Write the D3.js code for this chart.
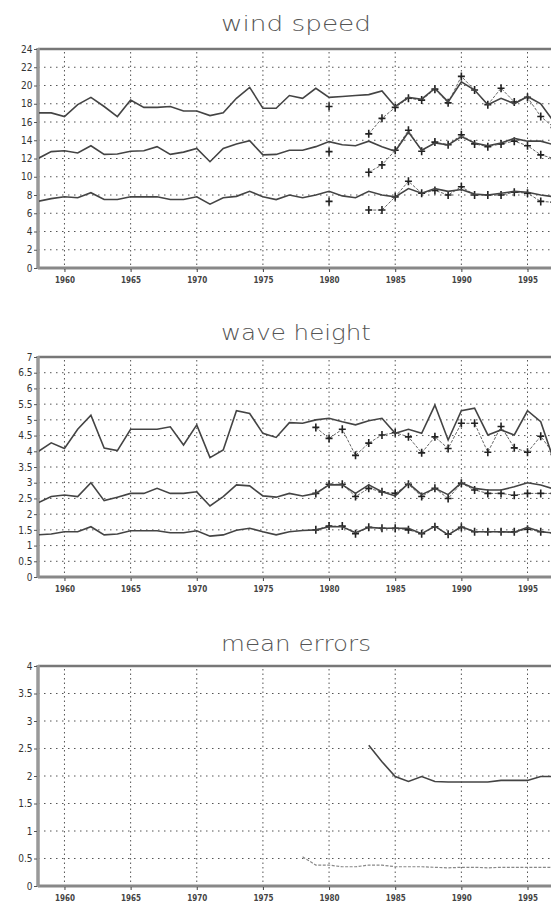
<!DOCTYPE html>
<html><head><meta charset="utf-8">
<script src="https://cdn.jsdelivr.net/npm/d3@7"></script>
<style>
html,body{margin:0;padding:0;background:#fff;overflow:hidden}
svg{display:block}
</style></head>
<body>
<svg id="chart" width="551" height="905"></svg>
<script>
// ---------- DATA ----------
const years = [1958,1959,1960,1961,1962,1963,1964,1965,1966,1967,1968,1969,1970,1971,1972,1973,1974,1975,1976,1977,
               1978,1979,1980,1981,1982,1983,1984,1985,1986,1987,1988,1989,1990,1991,1992,1993,1994,1995,1996,1997];
const yearTicks = [1960,1965,1970,1975,1980,1985,1990,1995];

const windUpper = [17.0,17.0,16.6,17.9,18.7,17.7,16.6,18.4,17.6,17.6,17.7,17.2,17.2,16.7,17.0,18.6,19.8,17.5,17.5,18.9,
                   18.6,19.7,18.7,18.8,18.9,19.0,19.4,17.7,18.7,18.5,19.7,18.2,20.4,19.5,17.9,18.6,18.0,18.8,18.0,16.0];
const windMid   = [12.0,12.75,12.85,12.6,13.4,12.45,12.5,12.8,12.85,13.3,12.45,12.7,13.1,11.65,13.1,13.6,13.95,12.4,12.45,12.9,
                   12.9,13.3,13.85,13.5,13.4,13.9,13.3,12.8,14.9,12.9,13.7,13.5,14.4,13.7,13.4,13.7,14.2,13.9,13.9,13.5];
const windLow   = [7.3,7.6,7.8,7.7,8.25,7.5,7.5,7.8,7.8,7.8,7.5,7.5,7.8,7.0,7.7,7.85,8.4,7.8,7.5,8.0,
                   7.7,8.0,8.4,7.9,7.7,8.4,8.0,7.8,8.7,8.2,8.7,8.4,8.6,8.1,8.0,8.2,8.4,8.3,8.0,7.8];

const windObsYears = [1980,1981,1982,1983,1984,1985,1986,1987,1988,1989,1990,1991,1992,1993,1994,1995,1996,1997];
const windUpperObs = [17.7,null,null,14.7,16.4,17.6,18.6,18.4,19.6,18.1,21.0,19.5,17.9,19.7,18.2,18.7,16.6,15.4];
const windMidObs   = [12.75,null,null,10.5,11.3,12.9,15.1,12.8,13.8,13.5,14.6,13.6,13.3,13.6,13.9,13.4,12.4,12.0];
const windLowObs   = [7.3,null,null,6.35,6.35,7.8,9.5,8.2,8.5,8.0,8.9,8.0,8.0,8.0,8.3,8.2,7.3,7.2];

const waveUpper = [3.99,4.27,4.09,4.7,5.15,4.1,4.02,4.7,4.7,4.7,4.78,4.2,4.84,3.8,4.04,5.29,5.2,4.57,4.44,4.91,
                   4.89,5.0,5.05,4.94,4.84,4.97,5.05,4.57,4.7,4.57,5.47,4.36,5.29,5.37,4.52,4.68,4.52,5.29,4.94,3.7];
const waveMid   = [2.36,2.56,2.61,2.56,3.0,2.43,2.54,2.66,2.66,2.82,2.66,2.66,2.71,2.26,2.56,2.93,2.9,2.58,2.54,2.66,
                   2.58,2.66,2.93,2.93,2.66,2.93,2.71,2.58,2.98,2.62,2.82,2.62,3.0,2.82,2.77,2.77,2.87,3.0,2.93,2.8];
const waveLow   = [1.34,1.37,1.44,1.44,1.6,1.34,1.37,1.47,1.47,1.47,1.41,1.41,1.47,1.3,1.34,1.49,1.55,1.44,1.34,1.44,
                   1.48,1.5,1.6,1.6,1.41,1.58,1.55,1.55,1.55,1.38,1.62,1.34,1.6,1.44,1.44,1.44,1.42,1.58,1.44,1.4];

const waveObsYears = [1979,1980,1981,1982,1983,1984,1985,1986,1987,1988,1989,1990,1991,1992,1993,1994,1995,1996,1997];
const waveUpperObs = [4.76,4.41,4.7,3.87,4.26,4.52,4.59,4.46,3.95,4.46,4.09,4.89,4.89,3.97,4.79,4.11,3.97,4.48,3.9];
const waveMidObs   = [2.66,2.95,2.95,2.56,2.82,2.71,2.66,2.95,2.56,2.82,2.5,2.98,2.77,2.66,2.66,2.6,2.66,2.66,2.66];
const waveLowObs   = [1.5,1.62,1.62,1.38,1.58,1.55,1.55,1.5,1.38,1.6,1.36,1.58,1.44,1.44,1.44,1.44,1.52,1.44,1.4];

const errUpperYears = [1983,1984,1985,1986,1987,1988,1989,1990,1991,1992,1993,1994,1995,1996,1997];
const errUpper      = [2.56,2.26,1.99,1.9,1.99,1.9,1.89,1.89,1.89,1.89,1.92,1.92,1.92,1.99,1.99];
const errLowerYears = [1978,1979,1980,1981,1982,1983,1984,1985,1986,1987,1988,1989,1990,1991,1992,1993,1994,1995,1996,1997];
const errLower      = [0.53,0.38,0.38,0.35,0.35,0.38,0.38,0.35,0.35,0.35,0.34,0.33,0.34,0.34,0.33,0.34,0.34,0.34,0.34,0.34];

const windTicks = [0,2,4,6,8,10,12,14,16,18,20,22,24];
const waveTicks = [0,0.5,1,1.5,2,2.5,3,3.5,4,4.5,5,5.5,6,6.5,7];
const errTicks  = [0,0.5,1,1.5,2,2.5,3,3.5,4];

const titles = ["wind speed","wave height","mean errors"];

// ---------- DRAW ----------
const svg = d3.select("#chart");
const x = d3.scaleLinear().domain([1958,1998]).range([38, 38 + 40*13.23]);

const panels = [
  {title:titles[0], top:49,  bottom:268, max:24, ticks:windTicks, titleY:31,
   model:[windUpper,windMid,windLow], obsYears:windObsYears, obs:[windUpperObs,windMidObs,windLowObs]},
  {title:titles[1], top:357, bottom:577, max:7, ticks:waveTicks, titleY:340,
   model:[waveUpper,waveMid,waveLow], obsYears:waveObsYears, obs:[waveUpperObs,waveMidObs,waveLowObs]},
  {title:titles[2], top:666, bottom:886, max:4, ticks:errTicks, titleY:651, err:true}
];

const fmt = v => (Math.round(v*10)/10).toString();

panels.forEach(p => {
  const y = d3.scaleLinear().domain([0,p.max]).range([p.bottom,p.top]);
  const g = svg.append("g");

  // title
  g.append("text").attr("x",296).attr("y",p.titleY).attr("text-anchor","middle")
    .attr("font-family","DejaVu Sans").attr("font-size",22).attr("font-weight",300).attr("fill","#555")
    .attr("textLength",150).attr("lengthAdjust","spacingAndGlyphs")
    .text(p.title);

  // horizontal grid
  g.selectAll(".hg").data(p.ticks.filter(t => t>0 && t<p.max)).join("line")
    .attr("x1",x(1958)).attr("x2",551).attr("y1",d=>y(d)).attr("y2",d=>y(d))
    .attr("stroke","#555").attr("stroke-width",1).attr("stroke-dasharray","1.5,4.5");
  // vertical grid
  g.selectAll(".vg").data(yearTicks).join("line")
    .attr("x1",d=>x(d)).attr("x2",d=>x(d)).attr("y1",p.top+3).attr("y2",p.bottom+3)
    .attr("stroke","#555").attr("stroke-width",1).attr("stroke-dasharray","1.5,3");

  // frame
  g.append("line").attr("x1",x(1958)).attr("x2",551).attr("y1",p.top).attr("y2",p.top)
    .attr("stroke","#777").attr("stroke-width",2.5);
  g.append("line").attr("x1",x(1958)).attr("x2",551).attr("y1",p.bottom).attr("y2",p.bottom)
    .attr("stroke","#888").attr("stroke-width",3);
  g.append("line").attr("x1",x(1958)).attr("x2",x(1958)).attr("y1",p.top-1).attr("y2",p.bottom+1)
    .attr("stroke","#999").attr("stroke-width",3.5);

  // y tick labels
  const yAxis = d3.axisLeft(y).tickValues(p.ticks).tickSize(3).tickFormat(fmt);
  const ya = g.append("g").attr("transform",`translate(${x(1958)-1},0)`).call(yAxis);
  ya.select(".domain").remove();
  ya.selectAll("line").attr("stroke","#555");
  ya.selectAll("text").attr("font-family","DejaVu Sans Condensed, DejaVu Sans").attr("font-size",10)
    .attr("fill","#333").attr("dx","1.5");

  // x tick labels
  const xAxis = d3.axisBottom(x).tickValues(yearTicks).tickSize(3).tickFormat(d3.format("d"));
  const xa = g.append("g").attr("transform",`translate(0,${p.bottom+1})`).call(xAxis);
  xa.select(".domain").remove();
  xa.selectAll("line").attr("stroke","#444");
  xa.selectAll("text").attr("font-family","DejaVu Sans Condensed, DejaVu Sans").attr("font-size",8)
    .attr("font-weight","bold").attr("fill","#444").attr("dy","0.95em");

  const clip = "clip"+p.top;
  svg.append("clipPath").attr("id",clip).append("rect")
    .attr("x",x(1958)+1).attr("y",p.top-6).attr("width",560).attr("height",p.bottom-p.top+6);
  const plot = g.append("g").attr("clip-path",`url(#${clip})`);

  if (!p.err) {
    // observation lines with + markers
    p.obs.forEach(series => {
      const pts = p.obsYears.map((yr,i)=>({yr, v:series[i]}));
      plot.append("path").datum(pts)
        .attr("d", d3.line().defined(d=>d.v!=null).x(d=>x(d.yr)).y(d=>y(d.v)))
        .attr("fill","none").attr("stroke","#666").attr("stroke-width",1).attr("stroke-dasharray","3,1.5");
      plot.selectAll(null).data(pts.filter(d=>d.v!=null)).join("path")
        .attr("d", d=>`M${x(d.yr)-3.5},${y(d.v)}h7M${x(d.yr)},${y(d.v)-4}v8`)
        .attr("stroke","#222").attr("stroke-width",1.6);
    });
    // model lines
    p.model.forEach(series => {
      plot.append("path").datum(years.map((yr,i)=>({yr, v:series[i]})))
        .attr("d", d3.line().x(d=>x(d.yr)).y(d=>y(d.v)))
        .attr("fill","none").attr("stroke","#444").attr("stroke-width",1.6);
    });
  } else {
    plot.append("path").datum(errLowerYears.map((yr,i)=>({yr, v:errLower[i]})))
      .attr("d", d3.line().x(d=>x(d.yr)).y(d=>y(d.v)))
      .attr("fill","none").attr("stroke","#888").attr("stroke-width",1.2).attr("stroke-dasharray","3,1.5");
    plot.append("path").datum(errUpperYears.map((yr,i)=>({yr, v:errUpper[i]})))
      .attr("d", d3.line().x(d=>x(d.yr)).y(d=>y(d.v)))
      .attr("fill","none").attr("stroke","#444").attr("stroke-width",1.6);
  }
});
</script>
</body></html>
